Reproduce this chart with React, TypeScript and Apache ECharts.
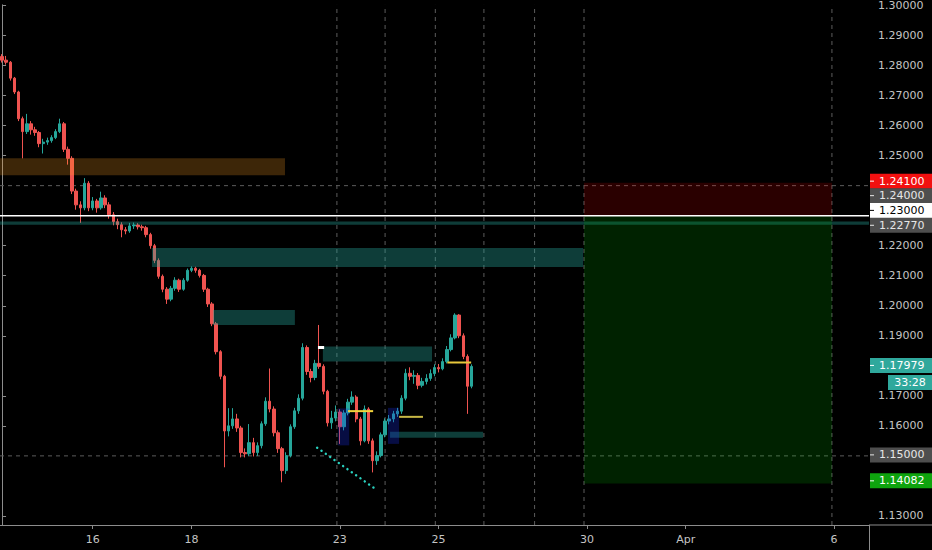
import React, { useEffect, useRef } from 'react';
import * as echarts from 'echarts';

// ---------- axis definition ----------
const tradingDays = ['03-12', '03-13', '03-16', '03-17', '03-18', '03-19', '03-20', '03-23', '03-24', '03-25', '03-26', '03-27', '03-30', '03-31', '04-01', '04-02', '04-03', '04-06'];
const barHours = ['00', '02', '04', '06', '08', '10', '12', '14', '16', '18', '20', '22'];
const dayLabels: Record<string, string> = { '03-16': '16', '03-18': '18', '03-23': '23', '03-25': '25', '03-30': '30', '04-01': 'Apr', '04-06': '6' };
const FIRST_SLOT = 2; // first visible bar: Mar 12 04:00
const SLOT_COUNT = 211;

const priceMin = 1.12698;
const priceMax = 1.30023;
const priceLabelValues = [1.13, 1.16, 1.17, 1.19, 1.2, 1.21, 1.22, 1.25, 1.26, 1.27, 1.28, 1.29, 1.3];

// ---------- 2-hour GBPUSD candles ----------
const firstOpen = 1.283;
const closes = [
  1.2818, 1.2811, 1.2758, 1.2712, 1.2623, 1.258, 1.2606, 1.2586, 1.2577, 1.254,
  1.2545, 1.255, 1.256, 1.258, 1.2606, 1.2521, 1.2491, 1.2382, 1.2336, 1.2326,
  1.2408, 1.2326, 1.2349, 1.2326, 1.2359, 1.2336, 1.2303, 1.228, 1.227, 1.2253,
  1.2249, 1.2266, 1.2269, 1.2263, 1.226, 1.2237, 1.22, 1.2151, 1.2098, 1.2055,
  1.2022, 1.2058, 1.2085, 1.2055, 1.2085, 1.2118, 1.2125, 1.2118, 1.2101, 1.2055,
  1.2006, 1.194, 1.1847, 1.1765, 1.1583, 1.16, 1.1623, 1.1593, 1.1511, 1.1507,
  1.1544, 1.1511, 1.1534, 1.1607, 1.1682, 1.1656, 1.1577, 1.1524, 1.1451, 1.1501,
  1.1597, 1.165, 1.1692, 1.1861, 1.1781, 1.1761, 1.1808, 1.1798, 1.1715, 1.161,
  1.1626, 1.1646, 1.1597, 1.1643, 1.1679, 1.1696, 1.1623, 1.155, 1.1656, 1.155,
  1.1484, 1.1501, 1.157, 1.1616, 1.1623, 1.164, 1.1649, 1.1692, 1.1775, 1.1765,
  1.1768, 1.1735, 1.1748, 1.1758, 1.1774, 1.1794, 1.179, 1.1814, 1.1854, 1.1893,
  1.1969, 1.19, 1.1831, 1.1732, 1.17979,
];
const highs = [
  1.2838, 1.2832, 1.2815, 1.2762, 1.2716, 1.263, 1.2639, 1.2615, 1.2596, 1.2582,
  1.2556, 1.256, 1.2568, 1.2588, 1.2623, 1.2612, 1.253, 1.2498, 1.239, 1.2348,
  1.2425, 1.2415, 1.2362, 1.2356, 1.238, 1.2368, 1.2345, 1.2312, 1.229, 1.2278,
  1.2262, 1.2276, 1.2277, 1.2275, 1.227, 1.2266, 1.2243, 1.2206, 1.2158, 1.2104,
  1.2062, 1.2066, 1.2095, 1.209, 1.2092, 1.2124, 1.2131, 1.213, 1.2123, 1.2106,
  1.206, 1.2012, 1.1946, 1.1852, 1.177, 1.1659, 1.1659, 1.164, 1.16, 1.1525,
  1.1606, 1.156, 1.1545, 1.1615, 1.1695, 1.1791, 1.1665, 1.1585, 1.153, 1.1512,
  1.1605, 1.166, 1.1705, 1.1875, 1.1868, 1.179, 1.182, 1.1936, 1.1805, 1.172,
  1.165, 1.1668, 1.1655, 1.1652, 1.169, 1.1715, 1.1702, 1.163, 1.1668, 1.1662,
  1.1558, 1.1515, 1.1578, 1.1625, 1.1636, 1.165, 1.166, 1.1702, 1.179, 1.1795,
  1.1785, 1.1776, 1.176, 1.1772, 1.1788, 1.1805, 1.1806, 1.1825, 1.1866, 1.1905,
  1.1975, 1.1972, 1.1908, 1.1838, 1.1805,
];
const lows = [
  1.281, 1.2803, 1.275, 1.2705, 1.2615, 1.2491, 1.2572, 1.257, 1.2566, 1.2528,
  1.2507, 1.2536, 1.2543, 1.2555, 1.2575, 1.2512, 1.247, 1.2372, 1.232, 1.2276,
  1.2318, 1.2315, 1.2318, 1.231, 1.232, 1.2325, 1.229, 1.2268, 1.2255, 1.2228,
  1.2238, 1.2243, 1.2256, 1.2254, 1.225, 1.2228, 1.219, 1.2142, 1.209, 1.2045,
  1.2006, 1.2015, 1.205, 1.2046, 1.205, 1.208, 1.2112, 1.211, 1.2094, 1.2046,
  1.1996, 1.1932, 1.1838, 1.1755, 1.1462, 1.1565, 1.159, 1.158, 1.1495, 1.1495,
  1.15, 1.1498, 1.15, 1.1525, 1.16, 1.1645, 1.1565, 1.151, 1.1412, 1.144,
  1.1495, 1.159, 1.164, 1.1685, 1.177, 1.1745, 1.1752, 1.179, 1.1705, 1.1598,
  1.159, 1.1615, 1.154, 1.1585, 1.1635, 1.167, 1.1612, 1.1535, 1.1545, 1.154,
  1.1445, 1.147, 1.1495, 1.1562, 1.1605, 1.1612, 1.163, 1.164, 1.1685, 1.1752,
  1.174, 1.1722, 1.1728, 1.1738, 1.175, 1.1765, 1.1778, 1.1785, 1.1808, 1.1848,
  1.1888, 1.1892, 1.1822, 1.164, 1.1725,
];

// ---------- drawn zones (bar-index start/end, price low/high) ----------
const zoneStart = [-0.5, -0.5, 36.4, 51.2, 77.9, 94.2, 81.6, 93.7, 141.3, 141.3];
const zoneEnd = [68.7, 210.5, 141.1, 71.1, 104.4, 116.8, 84.3, 96.4, 201.5, 201.5];
const zoneLow = [1.2435, 1.227, 1.2129, 1.1936, 1.1814, 1.156, 1.1535, 1.154, 1.23, 1.14082];
const zoneHigh = [1.2491, 1.2281, 1.2192, 1.1986, 1.1864, 1.158, 1.1658, 1.166, 1.241, 1.23];
const zoneColors = [
  'rgba(255,160,35,0.24)', 'rgba(38,166,154,0.36)', 'rgba(38,166,154,0.37)', 'rgba(38,166,154,0.37)',
  'rgba(38,166,154,0.37)', 'rgba(38,166,154,0.37)', 'rgba(25,45,240,0.28)', 'rgba(25,45,240,0.28)',
  'rgba(255,0,0,0.165)', 'rgba(0,200,0,0.17)',
];

// ---------- background lines (dashed) ----------
const dayLineX = [81.3, 93.0, 105.2, 117.0, 129.3, 141.3, 201.5];
const levelDashed = [1.24, 1.15];

// ---------- foreground drawings ----------
const segX0 = [-0.5, 84.0, 96.4, 108.1, 76.5, 76.7];
const segP0 = [1.23, 1.1649, 1.163, 1.1811, 1.15272, 1.1861];
const segX1 = [210.5, 90.1, 102.2, 113.9, 90.8, 78.2];
const segP1 = [1.23, 1.1649, 1.163, 1.1811, 1.13886, 1.1861];
const segStyles = [
  { stroke: '#ffffff', lineWidth: 1.5 },
  { stroke: '#f2d43c', lineWidth: 2 },
  { stroke: '#c8b845', lineWidth: 2 },
  { stroke: '#e8c83c', lineWidth: 2 },
  { stroke: '#2ad1bf', lineWidth: 2.4, lineDash: [0.1, 5.2], lineCap: 'round' },
  { stroke: '#ffffff', lineWidth: 3 },
];

// ---------- price tags on the axis ----------
const tagValues = [1.241, 1.24, 1.23, 1.2277, 1.17979, 1.15, 1.14082];
const tagOffsets = [-1.5, 10, -5.3, 2.7, -1, -1, -2.6];
const tagBg = ['#f21010', '#4e4e4e', '#ffffff', '#4e4e4e', '#2fa89c', '#4e4e4e', '#0ea40e'];
const tagFg = ['#ffffff', '#e6e6e6', '#000000', '#e6e6e6', '#ffffff', '#e6e6e6', '#ffffff'];
const countdownText = '33:28';

const FONT = '"DejaVu Sans", sans-serif';
const AXIS_COLOR = '#8c8c8c';
const LABEL_COLOR = '#c4c4c4';

export default function App() {
  const ref = useRef<HTMLDivElement>(null);

  useEffect(() => {
    if (!ref.current) return;
    const chart = echarts.init(ref.current, null, { renderer: 'svg' });

    const allSlots: string[] = [];
    tradingDays.forEach((d) => barHours.forEach((h) => allSlots.push(d + ' ' + h + ':00')));
    const categories = allSlots.slice(FIRST_SLOT, FIRST_SLOT + SLOT_COUNT);

    const candles = closes.map((c, i) => {
      const o = i === 0 ? firstOpen : closes[i - 1];
      return [o, c, lows[i], highs[i]];
    });

    const isDayLabel = (_i: number, v: string) => {
      const [d, t] = v.split(' ');
      return t === '00:00' && dayLabels[d] !== undefined;
    };

    const zoneData = zoneStart.map((s, i) => [s, zoneEnd[i], zoneLow[i], zoneHigh[i]]);
    const bgSegData: number[][] = [];
    dayLineX.forEach((x) => bgSegData.push([x, priceMin, x, priceMax]));
    levelDashed.forEach((p) => bgSegData.push([-0.5, p, SLOT_COUNT - 0.5, p]));
    const fgSegData = segX0.map((x, i) => [x, segP0[i], segX1[i], segP1[i]]);

    const segRender = (styles: (i: number) => any) => (params: any, api: any) => {
      const a = api.coord([api.value(0), api.value(1)]);
      const b = api.coord([api.value(2), api.value(3)]);
      return {
        type: 'line',
        shape: { x1: a[0], y1: a[1], x2: b[0], y2: b[1] },
        style: { fill: null, ...styles(params.dataIndex) },
      };
    };

    const option: any = {
      animation: false,
      backgroundColor: '#000000',
      grid: { left: 0, right: 63, top: 0, bottom: 25, containLabel: false },
      xAxis: [
        {
          type: 'category',
          data: categories,
          boundaryGap: true,
          axisLine: { show: true, lineStyle: { color: AXIS_COLOR, width: 1 } },
          axisTick: { show: true, interval: isDayLabel, alignWithLabel: true, length: 4, lineStyle: { color: AXIS_COLOR } },
          axisLabel: {
            interval: isDayLabel,
            formatter: (v: string) => dayLabels[v.split(' ')[0]] || '',
            color: LABEL_COLOR,
            fontFamily: FONT,
            fontSize: 11,
            margin: 9,
          },
          splitLine: { show: false },
        },
        { type: 'value', min: -0.5, max: SLOT_COUNT - 0.5, show: false },
      ],
      yAxis: {
        type: 'value',
        position: 'right',
        min: priceMin,
        max: priceMax,
        axisLine: { show: true, lineStyle: { color: AXIS_COLOR, width: 1 } },
        axisTick: { show: true, length: 4, customValues: priceLabelValues, lineStyle: { color: AXIS_COLOR } },
        axisLabel: {
          customValues: priceLabelValues,
          formatter: (v: number) => v.toFixed(5),
          color: LABEL_COLOR,
          fontFamily: FONT,
          fontSize: 11,
          margin: 9,
          showMinLabel: true,
          showMaxLabel: true,
        },
        splitLine: { show: false },
      },
      series: [
        {
          type: 'custom',
          name: 'bgLines',
          xAxisIndex: 1,
          yAxisIndex: 0,
          z: 1,
          silent: true,
          clip: true,
          encode: { x: [0, 2], y: [1, 3] },
          renderItem: segRender(() => ({ stroke: '#5c5c5c', lineWidth: 1, lineDash: [4, 4] })),
          data: bgSegData,
        },
        {
          type: 'candlestick',
          name: 'GBPUSD',
          xAxisIndex: 0,
          yAxisIndex: 0,
          z: 2,
          barWidth: '72%',
          itemStyle: {
            color: '#26a69a',
            color0: '#ef5350',
            borderColor: '#26a69a',
            borderColor0: '#ef5350',
            borderWidth: 1,
          },
          data: candles,
        },
        {
          type: 'custom',
          name: 'zones',
          xAxisIndex: 1,
          yAxisIndex: 0,
          z: 3,
          silent: true,
          clip: true,
          encode: { x: [0, 1], y: [2, 3] },
          renderItem: (params: any, api: any) => {
            const a = api.coord([api.value(0), api.value(3)]);
            const b = api.coord([api.value(1), api.value(2)]);
            return {
              type: 'rect',
              shape: { x: a[0], y: a[1], width: b[0] - a[0], height: b[1] - a[1] },
              style: { fill: zoneColors[params.dataIndex] },
            };
          },
          data: zoneData,
        },
        {
          type: 'custom',
          name: 'drawings',
          xAxisIndex: 1,
          yAxisIndex: 0,
          z: 4,
          silent: true,
          clip: true,
          encode: { x: [0, 2], y: [1, 3] },
          renderItem: segRender((i) => segStyles[i]),
          data: fgSegData,
        },
      ],
    };

    chart.setOption(option);

    const plotRight = 869;
    const graphics: any[] = [
      { type: 'line', z: 50, shape: { x1: plotRight, y1: 525, x2: 932, y2: 525 }, style: { stroke: AXIS_COLOR, lineWidth: 1 } },
      { type: 'line', z: 50, shape: { x1: plotRight + 0.5, y1: 525, x2: plotRight + 0.5, y2: 550 }, style: { stroke: AXIS_COLOR, lineWidth: 1 } },
    ];
    let countdownY = 0;
    tagValues.forEach((v, i) => {
      const cy = (chart.convertToPixel({ yAxisIndex: 0 }, v) as number) + tagOffsets[i];
      if (i === 4) countdownY = cy + 17;
      graphics.push({
        type: 'rect', z: 100,
        shape: { x: plotRight + 1, y: cy - 7.5, width: 932 - plotRight - 1, height: 15 },
        style: { fill: tagBg[i] },
      });
      graphics.push({
        type: 'line', z: 101,
        shape: { x1: plotRight + 1, y1: cy, x2: plotRight + 5, y2: cy },
        style: { stroke: tagFg[i], lineWidth: 1 },
      });
      graphics.push({
        type: 'text', z: 101,
        style: { x: 879, y: cy, text: v.toFixed(5), fill: tagFg[i], font: '11px ' + FONT, verticalAlign: 'middle', align: 'left' },
      });
    });
    graphics.push({
      type: 'rect', z: 100,
      shape: { x: 888, y: countdownY - 7.5, width: 44, height: 15 },
      style: { fill: tagBg[4] },
    });
    graphics.push({
      type: 'text', z: 101,
      style: { x: 910, y: countdownY, text: countdownText, fill: '#ffffff', font: '11px ' + FONT, verticalAlign: 'middle', align: 'center' },
    });
    chart.setOption({ graphic: graphics });

    return () => chart.dispose();
  }, []);

  return <div ref={ref} style={{ position: 'fixed', left: 0, top: 0, width: 932, height: 550 }} />;
}
